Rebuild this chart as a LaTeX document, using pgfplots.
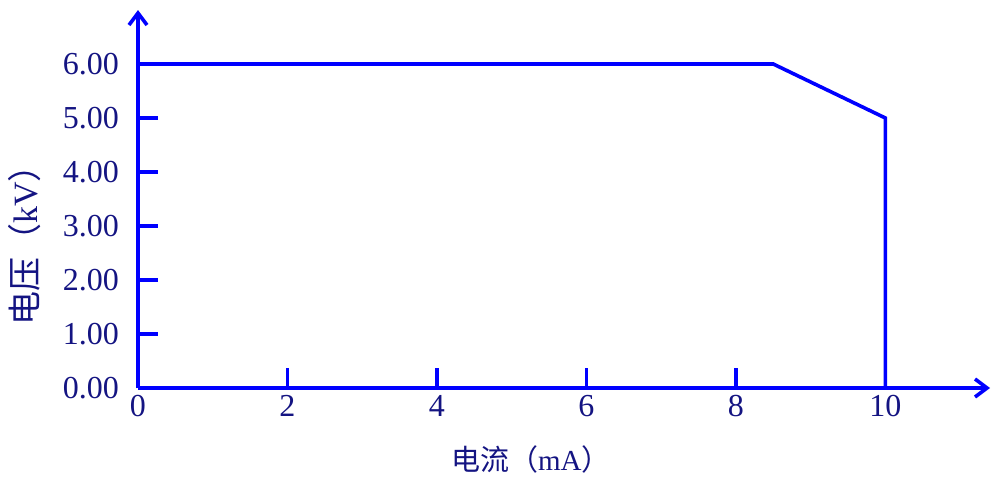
\documentclass[border=0pt]{standalone}
\usepackage{fontspec}
\setmainfont{Liberation Serif}
\newfontfamily\cjk{Noto Sans CJK SC}
\usepackage{pgfplots}
\pgfplotsset{compat=1.18}
\usetikzlibrary{arrows.meta}
\definecolor{lineblue}{RGB}{0,0,255}
\definecolor{textnavy}{RGB}{20,20,130}
\begin{document}
\begin{tikzpicture}
\begin{axis}[
  at={(0,0)}, anchor=south west,
  scale only axis, width=426pt, height=189pt,
  xmin=0, xmax=11.4, ymin=0, ymax=7,
  axis lines=left,
  axis line style={lineblue, line width=1.8pt, -{Straight Barb[length=6pt,width=9pt]}},
  xtick={0,2,4,6,8,10},
  ytick={0,1,2,3,4,5,6},
  tick align=inside,
  major tick length=10pt,
  tick style={lineblue, line width=1.8pt},
  /pgf/number format/assume math mode=true,
  ticklabel style={textnavy, font=\fontsize{16}{18}\selectfont},
  yticklabel style={/pgf/number format/fixed, /pgf/number format/fixed zerofill, /pgf/number format/precision=2, xshift=-6pt},
  xlabel={{\cjk 电流（}mA{\cjk ）}},
  ylabel={{\cjk 电压（}kV{\cjk ）}},
  every axis x label/.style={at={(axis description cs:0.461,-0.188)}, anchor=center, textnavy, font=\fontsize{14.5}{16}\selectfont},
  every axis y label/.style={at={(axis description cs:-0.1327,0.4)}, anchor=center, rotate=90, textnavy, font=\fontsize{17}{19}\selectfont},
  clip=false,
]
\addplot[lineblue, line width=1.8pt] coordinates {(0,6) (8.5,6) (10,5) (10,0)};
\end{axis}
\pgfresetboundingbox
\path[use as bounding box] (-69pt,-44.5pt) rectangle (426.5pt,194pt);
\end{tikzpicture}
\end{document}
